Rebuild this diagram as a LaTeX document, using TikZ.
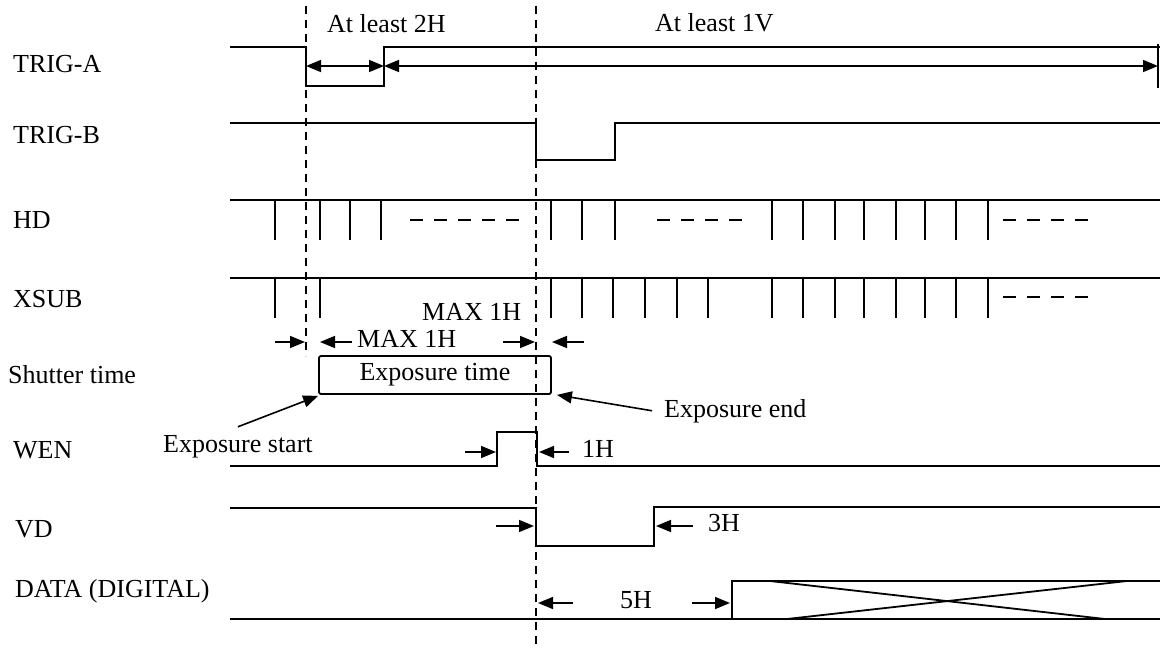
\documentclass[tikz,border=0pt]{standalone}
\usepackage{fontspec}
\setmainfont{Liberation Serif}
\usetikzlibrary{arrows.meta}

\begin{document}
\begin{tikzpicture}[x=1pt,y=-1pt,font=\fontsize{26}{30}\selectfont,
  wave/.style={line width=1.8pt,line join=miter},
  guide/.style={line width=1.8pt,dash pattern=on 8pt off 6pt},
  gapline/.style={line width=1.8pt,dash pattern=on 13pt off 11pt},
  tick/.style={-{Triangle[length=15pt,width=12pt]},line width=1.6pt},
  twotick/.style={{Triangle[length=15pt,width=12pt]}-{Triangle[length=15pt,width=12pt]},line width=1.6pt},
  sig/.style={anchor=base west,inner sep=0pt}]
  \useasboundingbox (0,0) rectangle (1162,650);

  % signal names
  \node[sig] (nTrigA) at (13,73) {TRIG-A};
  \node[sig] (nTrigB) at (13,143) {TRIG-B};
  \node[sig] (nHD) at (13,228) {HD};
  \node[sig] (nXSUB) at (13,307) {XSUB};
  \node[sig] (nShutter) at (8,383) {Shutter time};
  \node[sig] (nWEN) at (13,458) {WEN};
  \node[sig] (nVD) at (15,537) {VD};
  \node[sig] (nData) at (15,597) {DATA (DIGITAL)};

  % guide lines
  \draw[guide] (306,6) -- (306,356);
  \draw[guide] (536,6) -- (536,650);

  % TRIG-A
  \draw[wave] (230,47) -- (306,47) -- (306,86) -- (384,86) -- (384,47) -- (1160,47);
  \draw[wave] (1158,44) -- (1158,88);
  \coordinate (a0) at (306,66);
  \coordinate (a1) at (384,66);
  \coordinate (a2) at (1158,66);
  \draw[twotick] (a0) -- (a1);
  \draw[twotick] (a1) -- (a2);
  \node[sig] (n2H) at (327,33) {At least 2H};
  \node[sig] (n1V) at (655,32) {At least 1V};

  % TRIG-B
  \draw[wave] (230,123) -- (536,123) -- (536,160) -- (615,160) -- (615,123) -- (1160,123);

  % HD
  \draw[wave] (230,200) -- (1160,200);
  \foreach \x in {275,320,350,381,551,582,615,772,803,835,864,896,925,956,988}
    \draw[wave] (\x,200) -- (\x,240);
  \draw[gapline] (410,220) -- (522,220);
  \draw[gapline] (657,220) -- (752,220);
  \draw[gapline] (1003,220) -- (1096,220);

  % XSUB
  \draw[wave] (230,278) -- (1160,278);
  \foreach \x in {275,320,551,582,613,645,677,708,772,803,835,864,896,925,956,988}
    \draw[wave] (\x,278) -- (\x,318);
  \draw[gapline] (1003,297) -- (1096,297);
  \coordinate (x0) at (275,342);
  \coordinate (x1) at (305,342);
  \coordinate (x2) at (352,342);
  \coordinate (x3) at (320,342);
  \coordinate (x4) at (503,342);
  \coordinate (x5) at (535,342);
  \coordinate (x6) at (584,342);
  \coordinate (x7) at (552,342);
  \draw[tick] (x0) -- (x1);
  \draw[tick] (x2) -- (x3);
  \draw[tick] (x4) -- (x5);
  \draw[tick] (x6) -- (x7);
  \node[sig] (nMaxA) at (357,347) {MAX 1H};
  \node[sig] (nMaxB) at (422,320) {MAX 1H};

  % shutter
  \node[draw,line width=1.8pt,rounded corners=2pt,minimum width=232pt,minimum height=38pt,inner sep=0pt]
    (expBox) at (435,375) {Exposure time};
  \node[sig] (nExpStart) at (163,452) {Exposure start};
  \node[sig] (nExpEnd) at (664,417) {Exposure end};
  \draw[tick] ([yshift=8pt]nExpStart.north) -- ([yshift=-1pt]expBox.south west);
  \draw[tick] ([xshift=-12pt]nExpEnd.west) -- ([xshift=5pt]expBox.south east);

  % WEN
  \draw[wave] (230,466) -- (497,466) -- (497,432) -- (537,432) -- (537,466) -- (1160,466);
  \coordinate (w0) at (465,452);
  \coordinate (w1) at (496,452);
  \coordinate (w2) at (569,452);
  \coordinate (w3) at (539,452);
  \draw[tick] (w0) -- (w1);
  \draw[tick] (w2) -- (w3);
  \node[sig] (n1H) at (582,457) {1H};

  % VD
  \draw[wave] (230,508) -- (536,508) -- (536,546) -- (654,546) -- (654,507) -- (1160,507);
  \coordinate (v0) at (496,526);
  \coordinate (v1) at (534,526);
  \coordinate (v2) at (693,526);
  \coordinate (v3) at (656,526);
  \draw[tick] (v0) -- (v1);
  \draw[tick] (v2) -- (v3);
  \node[sig] (n3H) at (708,531) {3H};

  % DATA
  \draw[wave] (230,619) -- (732,619);
  \draw[wave] (1160,581) -- (732,581) -- (732,619) -- (1160,619);
  \draw[wave] (770,581) -- (1105,619);
  \draw[wave] (787,619) -- (1127,581);
  \coordinate (d0) at (573,603);
  \coordinate (d1) at (538,603);
  \coordinate (d2) at (692,603);
  \coordinate (d3) at (730,603);
  \draw[tick] (d0) -- (d1);
  \draw[tick] (d2) -- (d3);
  \node[sig] (n5H) at (620,608) {5H};
\end{tikzpicture}
\end{document}
